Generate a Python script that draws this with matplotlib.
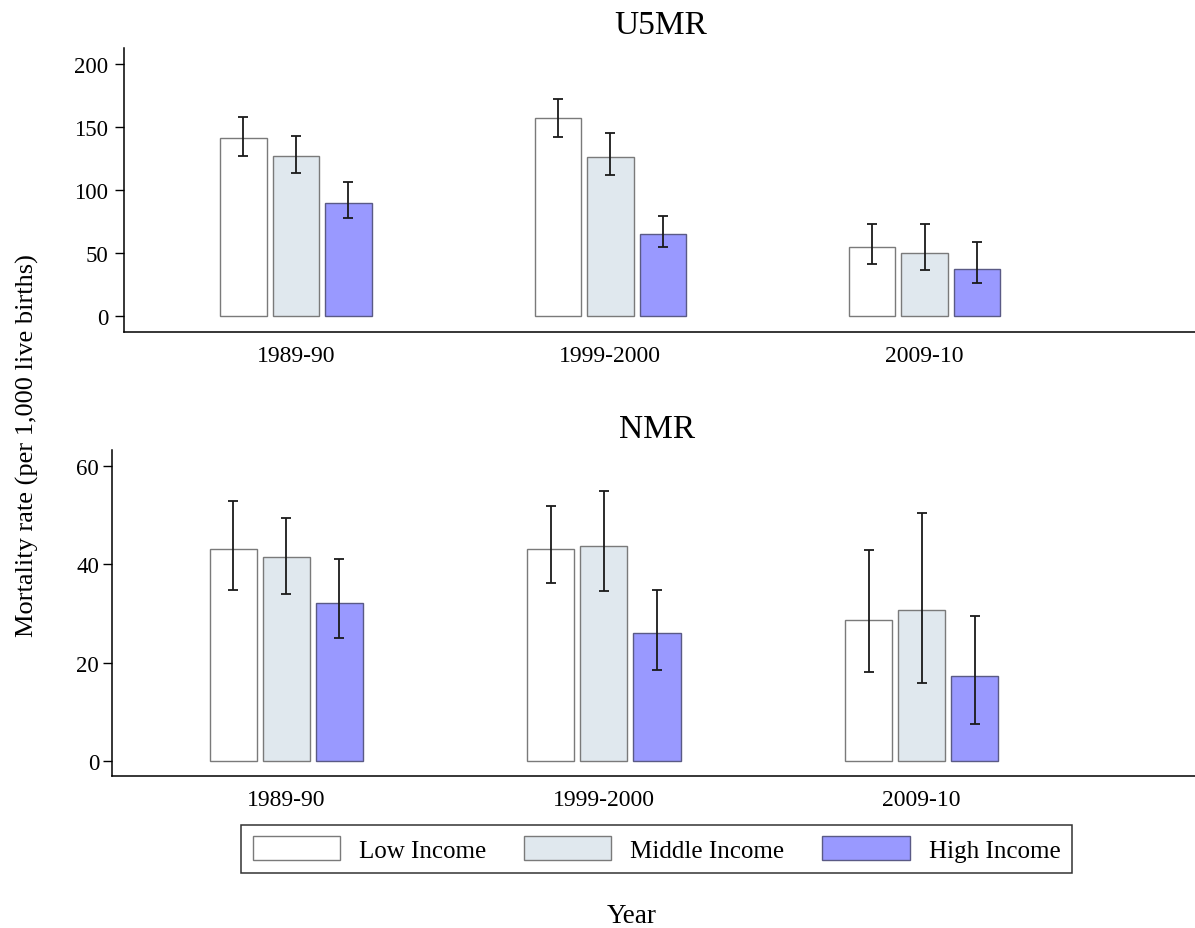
import numpy as np
import matplotlib.pyplot as plt
from matplotlib.patches import Patch

plt.rcParams['font.family'] = ['Liberation Serif', 'DejaVu Serif']

years = ['1989-90', '1999-2000', '2009-10']
groups = ['Low Income', 'Middle Income', 'High Income']

# under-five mortality (per 1,000 live births), with CI bounds
u5mr_low = [141, 157, 55]
u5mr_low_lo = [127, 142, 41]
u5mr_low_hi = [158, 172, 73]
u5mr_mid = [127, 126, 50]
u5mr_mid_lo = [113.5, 112, 36]
u5mr_mid_hi = [143, 145, 73]
u5mr_high = [90, 65, 37]
u5mr_high_lo = [78, 55, 26]
u5mr_high_hi = [106, 79, 58.5]

# neonatal mortality
nmr_low = [43.2, 43.2, 28.6]
nmr_low_lo = [34.7, 36.3, 18.1]
nmr_low_hi = [52.9, 51.9, 42.9]
nmr_mid = [41.5, 43.7, 30.6]
nmr_mid_lo = [34.0, 34.5, 15.9]
nmr_mid_hi = [49.5, 55.0, 50.4]
nmr_high = [32.2, 26.1, 17.2]
nmr_high_lo = [25.0, 18.4, 7.4]
nmr_high_hi = [41.1, 34.8, 29.4]

fills = ['#ffffff', '#e0e8ee', '#9999ff']
edges = ['#7a7a7a', '#7a7a7a', '#5a5a85']

W, H = 1195, 929
fig = plt.figure(figsize=(W / 100, H / 100), dpi=100)


def draw_panel(ax, series, ylim, yticks, tick_pad):
    x = np.arange(len(years))
    step, width = 0.167, 0.148
    for i, (vals, lo, hi) in enumerate(series):
        pos = x + (i - 1) * step
        vals = np.array(vals)
        ax.bar(pos, vals, width=width, color=fills[i], edgecolor=edges[i],
               linewidth=1.0, zorder=2)
        yerr = [vals - np.array(lo), np.array(hi) - vals]
        ax.errorbar(pos, vals, yerr=yerr, fmt='none', ecolor='#1a1a1a',
                    elinewidth=1.3, capsize=3.6, capthick=1.3, zorder=3)
    ax.set_xlim(-0.547, 2.86)
    ax.set_ylim(*ylim)
    ax.set_yticks(yticks)
    ax.set_xticks(x)
    ax.set_xticklabels(years, fontsize=17)
    ax.tick_params(axis='x', length=0, pad=9)
    ax.tick_params(axis='y', length=6.5, width=1.0, pad=tick_pad, labelsize=16.5)
    for s in ['top', 'right']:
        ax.spines[s].set_visible(False)
    for s in ['left', 'bottom']:
        ax.spines[s].set_linewidth(1.1)
        ax.spines[s].set_color('black')


ax_top = fig.add_axes([124 / W, 1 - 333.3 / H, 1 - 124 / W, (333.3 - 49.3) / H])
draw_panel(ax_top,
           [(u5mr_low, u5mr_low_lo, u5mr_low_hi),
            (u5mr_mid, u5mr_mid_lo, u5mr_mid_hi),
            (u5mr_high, u5mr_high_lo, u5mr_high_hi)],
           (-13.2, 212.7), [0, 50, 100, 150, 200], 5)

ax_bot = fig.add_axes([112.3 / W, 1 - 777.3 / H, 1 - 112.3 / W, (777.3 - 451) / H])
draw_panel(ax_bot,
           [(nmr_low, nmr_low_lo, nmr_low_hi),
            (nmr_mid, nmr_mid_lo, nmr_mid_hi),
            (nmr_high, nmr_high_lo, nmr_high_hi)],
           (-3.18, 63.3), [0, 20, 40, 60], 3)

fig.text(661 / W, 1 - 26 / H, 'U5MR', fontsize=24, ha='center', va='center')
fig.text(657 / W, 1 - 430 / H, 'NMR', fontsize=24, ha='center', va='center')
fig.text(27 / W, 1 - 446 / H, 'Mortality rate (per 1,000 live births)',
         fontsize=19, rotation=90, ha='center', va='center')
fig.text(632 / W, 1 - 917 / H, 'Year', fontsize=19.5, ha='center', va='center')

handles = [Patch(facecolor=fills[i], edgecolor=edges[i], linewidth=1.0)
           for i in range(3)]
leg = fig.legend(handles, groups, ncol=3, loc='center',
                 bbox_to_anchor=(656.5 / W, 1 - 850 / H), fontsize=18,
                 frameon=True, fancybox=False, edgecolor='black',
                 handlelength=3.5, handleheight=1.1, handletextpad=0.76,
                 columnspacing=1.5, borderpad=0.45, borderaxespad=0)
leg.get_frame().set_linewidth(1.1)

fig.savefig('out.png', dpi=100)
